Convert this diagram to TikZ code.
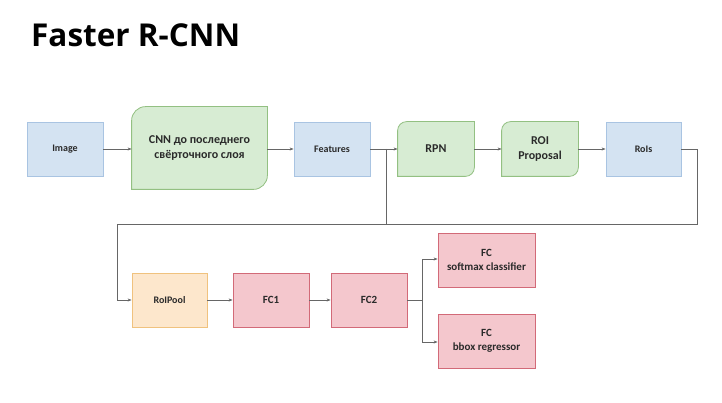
\documentclass[tikz,border=0pt]{standalone}
\usepackage{fontspec}
\setmainfont{Carlito}
\newfontfamily\titlefont{Open Sans}
\usetikzlibrary{arrows.meta,calc}
\definecolor{bluefill}{HTML}{D4E3F2}
\definecolor{blueline}{HTML}{A9C4E2}
\definecolor{greenfill}{HTML}{D7ECD3}
\definecolor{greenline}{HTML}{93C082}
\definecolor{orangefill}{HTML}{FDE7CC}
\definecolor{orangeline}{HTML}{F0C27E}
\definecolor{redfill}{HTML}{F4C7CD}
\definecolor{redline}{HTML}{D26A78}
\definecolor{textcol}{HTML}{2A2A2A}
\definecolor{linecol}{HTML}{666666}
\tikzset{
  box/.style={rectangle, minimum width=76pt, minimum height=54pt, inner sep=1pt, align=center, text=textcol, font=\bfseries\fontsize{10}{12}\selectfont, line width=0.8pt},
  bluebox/.style={box, fill=bluefill, draw=blueline},
  orangebox/.style={box, fill=orangefill, draw=orangeline},
  redbox/.style={box, fill=redfill, draw=redline, font=\bfseries\fontsize{11}{13.5}\selectfont},
  greenbox/.style={box, font=\bfseries\fontsize{12}{15}\selectfont},
  greenshape/.style={fill=greenfill, draw=greenline, line width=0.8pt},
  conn/.style={draw=linecol, line width=0.7pt},
  arr/.style={conn, -{Stealth[length=4pt,width=3pt]}}
}
\newcommand{\snipshape}[2]{%
  \path[greenshape] (#1.south west) -- ($(#1.north west)+(0,-#2)$) arc[start angle=180,end angle=90,radius=#2] -- (#1.north east) -- ($(#1.south east)+(0,#2)$) arc[start angle=0,end angle=-90,radius=#2] -- cycle;}
\begin{document}
\begin{tikzpicture}[x=1pt,y=1pt]
\useasboundingbox[fill=white] (0,0) rectangle (722,-403);
\node[anchor=base west, inner sep=0pt, font=\titlefont\bfseries\fontsize{31.5}{33}\selectfont] (title) at (31,-47) {Faster R-CNN};

\node[bluebox] (img) at (65,-149) {Image};
\node[greenbox, minimum width=135pt, minimum height=82pt] (cnn) at (199.5,-148) {};
\node[bluebox] (feat) at (332,-149) {Features};
\node[greenbox] (rpn) at (436,-149) {};
\node[greenbox] (roip) at (540,-149) {};
\node[bluebox, minimum width=75pt] (rois) at (643.5,-149) {RoIs};
\snipshape{cnn}{14pt}
\snipshape{rpn}{9pt}
\snipshape{roip}{9pt}
\node[greenbox, minimum width=135pt, minimum height=82pt] at (cnn) {CNN до последнего\\свёрточного слоя};
\node[greenbox] at (rpn) {RPN};
\node[greenbox] at (roip) {ROI\\Proposal};

\node[orangebox, minimum width=75pt] (roipool) at (169.5,-300) {RoIPool};
\node[redbox] (fc1) at (271,-300) {FC1};
\node[redbox] (fc2) at (369,-300) {FC2};
\node[redbox, minimum width=97pt] (fcs) at (486.5,-260) {FC\\softmax classifier};
\node[redbox, minimum width=97pt] (fcb) at (486.5,-341) {FC\\bbox regressor};

\coordinate (b1) at (386,-149);
\coordinate (r1) at (697,-224);
\coordinate (l1) at (117,-224);
\coordinate (b2) at (422,-300);

\draw[arr] (img.east) -- (img.east -| cnn.west);
\draw[arr] (cnn.east |- feat.west) -- (feat.west);
\draw[arr] (feat.east) -- (rpn.west);
\draw[arr] (rpn.east) -- (roip.west);
\draw[arr] (roip.east) -- (rois.west);
\draw[conn] (b1) -- (b1 |- r1);
\draw[arr] (rois.east) -| (r1) -- (l1) |- (roipool.west);
\draw[arr] (roipool.east) -- (fc1.west);
\draw[arr] (fc1.east) -- (fc2.west);
\draw[conn] (fc2.east) -- (b2);
\draw[arr] (b2) |- ([yshift=1pt]fcs.west);
\draw[arr] (b2) |- ([yshift=-1pt]fcb.west);
\end{tikzpicture}
\end{document}
